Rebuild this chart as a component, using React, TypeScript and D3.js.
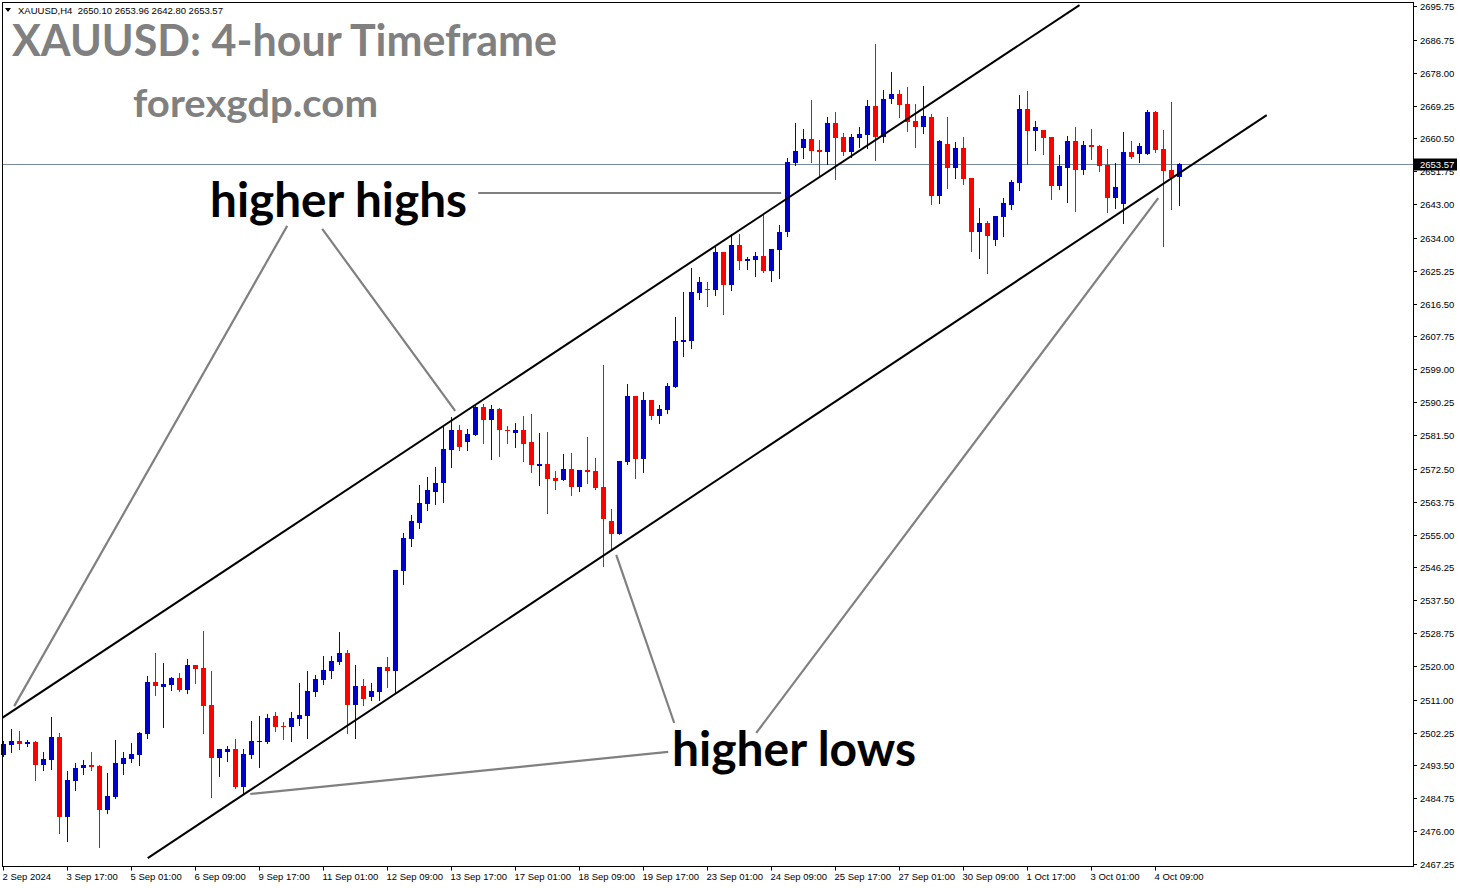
import * as d3 from "d3";

// XAUUSD H4 candles, bar 0 = 2 Sep 2024 00:00
const opens = [
  2496.3, 2499.0, 2500.0, 2499.2, 2499.7, 2493.7, 2495.0, 2501.1, 2479.9, 2489.4,
  2492.7, 2493.5, 2493.3, 2481.5, 2485.2, 2494.0, 2495.3, 2496.4, 2502.0, 2515.7,
  2514.5, 2515.0, 2516.7, 2513.7, 2520.2, 2519.5, 2509.6, 2495.6, 2497.0, 2497.9,
  2487.8, 2496.4, 2499.7, 2499.8, 2506.7, 2504.0, 2503.8, 2505.9, 2506.7, 2513.1,
  2516.2, 2518.7, 2521.0, 2523.5, 2509.7, 2514.6, 2511.8, 2513.1, 2519.7, 2518.7,
  2545.3, 2553.9, 2558.1, 2563.2, 2566.4, 2568.6, 2577.6, 2582.9, 2579.7, 2581.6,
  2588.9, 2585.5, 2588.4, 2582.9, 2582.1, 2582.9, 2579.7, 2573.3, 2573.8, 2570.1,
  2569.6, 2572.5, 2567.7, 2572.3, 2572.0, 2567.7, 2558.6, 2555.2, 2574.4, 2591.9,
  2575.2, 2590.8, 2586.6, 2588.2, 2594.3, 2606.4, 2606.6, 2619.4, 2620.5, 2620.2,
  2630.2, 2621.5, 2632.1, 2627.9, 2628.2, 2629.2, 2625.3, 2630.8, 2635.6, 2653.9,
  2657.8, 2660.3, 2657.4, 2657.0, 2664.6, 2660.9, 2657.0, 2660.6, 2661.5, 2669.1,
  2660.9, 2671.0, 2672.3, 2669.6, 2665.1, 2663.5, 2666.2, 2645.2, 2659.0, 2652.7,
  2657.9, 2650.0, 2635.6, 2637.9, 2633.5, 2639.6, 2642.8, 2648.7, 2668.3, 2662.5,
  2662.7, 2660.9, 2647.9, 2652.7, 2659.8, 2652.2, 2658.7, 2658.5, 2653.5, 2644.7,
  2643.1, 2656.9, 2656.4, 2656.4, 2667.5, 2657.7, 2652.1, 2650.1,
];
const highs = [
  2500.0, 2503.2, 2502.7, 2500.3, 2500.0, 2497.1, 2506.4, 2502.1, 2492.0, 2494.2,
  2494.9, 2497.1, 2493.5, 2491.4, 2500.3, 2497.1, 2499.5, 2502.4, 2517.3, 2523.5,
  2520.8, 2517.0, 2518.1, 2521.8, 2520.2, 2529.3, 2518.7, 2498.0, 2498.7, 2500.6,
  2497.8, 2505.3, 2506.7, 2507.2, 2507.7, 2505.1, 2507.7, 2515.4, 2518.7, 2517.6,
  2522.7, 2522.7, 2529.1, 2524.2, 2520.2, 2516.5, 2515.5, 2519.7, 2522.5, 2545.6,
  2555.5, 2560.2, 2568.2, 2570.2, 2573.0, 2584.0, 2586.3, 2584.2, 2583.1, 2589.4,
  2589.8, 2589.4, 2588.6, 2583.8, 2584.8, 2586.6, 2587.2, 2581.9, 2582.4, 2572.0,
  2576.5, 2576.8, 2572.3, 2581.0, 2575.5, 2600.2, 2561.8, 2574.6, 2595.2, 2591.9,
  2593.0, 2590.8, 2589.4, 2595.4, 2613.0, 2619.7, 2625.9, 2623.6, 2622.3, 2631.6,
  2630.2, 2635.0, 2635.0, 2628.9, 2630.2, 2640.1, 2631.0, 2637.4, 2655.3, 2664.6,
  2663.0, 2670.7, 2660.1, 2666.2, 2667.5, 2661.9, 2661.6, 2663.5, 2670.7, 2685.6,
  2673.4, 2678.2, 2673.4, 2674.2, 2669.6, 2674.4, 2667.0, 2660.1, 2666.2, 2659.5,
  2660.9, 2650.0, 2641.9, 2638.5, 2639.8, 2644.6, 2649.4, 2672.0, 2673.1, 2665.1,
  2662.7, 2660.9, 2656.1, 2661.1, 2663.5, 2659.8, 2663.0, 2658.7, 2657.7, 2654.0,
  2662.2, 2659.8, 2659.3, 2668.1, 2667.8, 2662.7, 2670.2, 2653.96,
];
const lows = [
  2496.0, 2497.2, 2497.9, 2498.8, 2489.7, 2492.2, 2492.5, 2475.6, 2473.5, 2487.0,
  2491.3, 2492.2, 2471.9, 2480.9, 2484.9, 2491.3, 2494.5, 2493.7, 2500.9, 2512.3,
  2503.8, 2513.7, 2513.4, 2512.9, 2515.5, 2502.2, 2485.2, 2490.8, 2494.7, 2487.6,
  2486.0, 2495.6, 2493.0, 2499.4, 2502.8, 2500.6, 2500.1, 2504.2, 2500.9, 2512.1,
  2515.2, 2516.7, 2520.5, 2502.2, 2500.9, 2509.7, 2511.0, 2511.0, 2514.5, 2513.1,
  2541.9, 2552.0, 2556.8, 2561.6, 2563.2, 2563.7, 2573.0, 2577.6, 2577.6, 2581.6,
  2579.4, 2575.1, 2575.9, 2579.4, 2578.4, 2574.6, 2571.7, 2568.3, 2560.8, 2567.0,
  2569.6, 2565.6, 2566.7, 2568.6, 2567.2, 2546.7, 2550.8, 2555.2, 2573.8, 2570.0,
  2571.7, 2585.8, 2584.8, 2587.4, 2594.3, 2602.6, 2604.7, 2617.8, 2615.9, 2618.9,
  2613.8, 2620.0, 2625.8, 2625.8, 2623.9, 2625.0, 2622.6, 2623.4, 2634.6, 2653.4,
  2655.3, 2654.3, 2650.8, 2653.7, 2649.8, 2656.1, 2655.5, 2658.2, 2657.9, 2654.8,
  2659.5, 2669.9, 2666.2, 2662.5, 2658.2, 2661.9, 2643.0, 2643.3, 2647.4, 2650.0,
  2648.4, 2630.6, 2628.6, 2624.7, 2632.2, 2634.6, 2641.8, 2646.8, 2653.7, 2657.5,
  2656.4, 2644.4, 2647.1, 2643.6, 2641.2, 2651.1, 2655.1, 2651.9, 2641.0, 2642.0,
  2638.0, 2655.4, 2654.3, 2656.4, 2656.9, 2631.9, 2641.8, 2642.8,
];
const closes = [
  2499.2, 2500.0, 2499.2, 2499.7, 2493.7, 2495.2, 2501.1, 2479.9, 2489.6, 2492.7,
  2493.5, 2493.0, 2481.7, 2485.4, 2494.1, 2495.6, 2496.6, 2502.2, 2515.7, 2514.7,
  2515.2, 2516.7, 2513.7, 2520.2, 2519.2, 2509.4, 2495.6, 2497.8, 2497.9, 2487.8,
  2496.6, 2500.0, 2500.0, 2506.1, 2503.8, 2503.8, 2506.1, 2506.9, 2513.3, 2516.5,
  2518.9, 2521.3, 2523.5, 2509.7, 2514.6, 2511.3, 2513.3, 2519.7, 2518.7, 2545.6,
  2554.1, 2558.6, 2563.4, 2566.9, 2568.7, 2577.8, 2582.9, 2578.4, 2581.8, 2588.9,
  2585.5, 2588.4, 2582.7, 2582.5, 2582.9, 2579.2, 2573.5, 2573.8, 2569.8, 2569.3,
  2572.5, 2567.7, 2572.3, 2571.7, 2567.5, 2559.2, 2555.2, 2574.6, 2591.9, 2575.2,
  2590.8, 2586.6, 2588.4, 2594.6, 2606.6, 2606.8, 2619.7, 2622.3, 2620.1, 2630.2,
  2621.5, 2632.1, 2627.9, 2628.4, 2629.2, 2625.3, 2631.0, 2635.5, 2654.2, 2657.1,
  2660.3, 2657.2, 2657.0, 2664.6, 2660.7, 2657.0, 2660.9, 2661.6, 2669.1, 2660.9,
  2671.0, 2672.3, 2669.4, 2664.9, 2663.5, 2666.5, 2645.2, 2659.8, 2652.7, 2657.9,
  2649.8, 2635.6, 2637.9, 2634.6, 2639.8, 2643.3, 2648.9, 2668.3, 2662.5, 2663.5,
  2660.7, 2647.9, 2653.1, 2659.8, 2652.2, 2658.7, 2658.3, 2653.2, 2644.7, 2647.5,
  2656.9, 2655.6, 2658.5, 2667.5, 2657.5, 2651.9, 2650.0, 2653.57,
];

const timeLabels = [
  "2 Sep 2024", "3 Sep 17:00", "5 Sep 01:00", "6 Sep 09:00", "9 Sep 17:00",
  "11 Sep 01:00", "12 Sep 09:00", "13 Sep 17:00", "17 Sep 01:00", "18 Sep 09:00",
  "19 Sep 17:00", "23 Sep 01:00", "24 Sep 09:00", "25 Sep 17:00", "27 Sep 01:00",
  "30 Sep 09:00", "1 Oct 17:00", "3 Oct 01:00", "4 Oct 09:00",
];
const barsPerLabel = 8;

const priceTicks = [
  2695.75, 2686.75, 2678.0, 2669.25, 2660.5, 2651.75, 2643.0, 2634.0, 2625.25,
  2616.5, 2607.75, 2599.0, 2590.25, 2581.5, 2572.5, 2563.75, 2555.0, 2546.25,
  2537.5, 2528.75, 2520.0, 2511.0, 2502.25, 2493.5, 2484.75, 2476.0, 2467.25,
];

const lastPrice = 2653.57;

// drawn objects, as [bar index, price]
const channelLines: [number, number][][] = [
  [[-0.2, 2506.1], [134.5, 2696.0]],
  [[18.03, 2468.8], [157.9, 2666.7]],
];
const pointerLines: [number, number][][] = [
  [[35.46, 2637.2], [1.34, 2509.3]],
  [[39.84, 2636.4], [56.46, 2587.9]],
  [[59.34, 2645.95], [97.21, 2645.95]],
  [[83.09, 2497.1], [30.84, 2485.9]],
  [[83.84, 2504.8], [76.59, 2549.55]],
  [[94.09, 2502.15], [144.34, 2644.6]],
];

const W = 1460;
const H = 888;
const frame = { left: 2.5, top: 2.5, right: 1413.5, bottom: 866.5 };
const axisFont = "Tahoma, 'Liberation Sans', Arial, sans-serif";
const bigFont = "Lato, 'Open Sans', sans-serif";
const bull = "#0000cd";
const bear = "#ff0000";

export default function App() {
  const x = d3.scaleLinear().domain([0, 1]).range([3.5, 11.5]);
  const y = d3.scaleLinear().domain([2467.25, 2695.75]).range([864, 6]);
  const line = d3
    .line<[number, number]>()
    .x((d) => x(d[0]))
    .y((d) => y(d[1]));

  const lastY = Math.round(y(lastPrice)) + 0.5;

  return (
    <>
      <style>{`body{margin:0}`}</style>
      <svg width={W} height={H} style={{ display: "block", background: "#fff" }}>
        <defs>
          <clipPath id="plot">
            <rect
              x={frame.left}
              y={frame.top}
              width={frame.right - frame.left}
              height={frame.bottom - frame.top}
            />
          </clipPath>
        </defs>

        {/* current price line */}
        <line x1={frame.left} x2={frame.right} y1={lastY} y2={lastY} stroke="#778899" strokeWidth={1} />

        {/* candles */}
        <g>
          {opens.map((o, i) => {
            const c = closes[i];
            const col = c >= o ? bull : bear;
            const cx = x(i);
            const top = Math.round(y(Math.max(o, c)));
            const bot = Math.round(y(Math.min(o, c)));
            return (
              <g key={i}>
                <line
                  x1={cx}
                  x2={cx}
                  y1={Math.round(y(highs[i]))}
                  y2={Math.round(y(lows[i])) + 1}
                  stroke={col}
                  strokeWidth={1}
                />
                <rect x={cx - 2.5} y={top} width={5} height={Math.max(1, bot - top)} fill={col} />
              </g>
            );
          })}
        </g>

        {/* channel */}
        <g clipPath="url(#plot)">
          {channelLines.map((l, i) => (
            <path key={i} d={line(l) ?? ""} fill="none" stroke="#000" strokeWidth={2} />
          ))}
        </g>

        {/* pointers */}
        {pointerLines.map((l, i) => (
          <path key={i} d={line(l) ?? ""} fill="none" stroke="#808080" strokeWidth={2.2} />
        ))}

        {/* frame */}
        <rect
          x={frame.left}
          y={frame.top}
          width={frame.right - frame.left}
          height={frame.bottom - frame.top}
          fill="none"
          stroke="#000"
          strokeWidth={1}
        />

        {/* price axis */}
        <g fontFamily={axisFont} fontSize={9.5} fill="#000">
          {priceTicks.map((p) => {
            const py = Math.round(y(p)) + 0.5;
            return (
              <g key={p}>
                <line x1={frame.right} x2={frame.right + 3.5} y1={py} y2={py} stroke="#000" />
                <text x={1420} y={py} dominantBaseline="central">
                  {p.toFixed(2)}
                </text>
              </g>
            );
          })}
          <rect x={1414} y={lastY - 6} width={43} height={12} fill="#000" />
          <text x={1420} y={lastY} dominantBaseline="central" fill="#fff">
            {lastPrice.toFixed(2)}
          </text>
        </g>

        {/* time axis */}
        <g fontFamily={axisFont} fontSize={9.5} fill="#000">
          {timeLabels.map((t, k) => {
            const tx = x(k * barsPerLabel);
            return (
              <g key={t}>
                <line x1={tx} x2={tx} y1={frame.bottom} y2={frame.bottom + 4} stroke="#000" />
                <text x={tx - 1} y={880}>
                  {t}
                </text>
              </g>
            );
          })}
        </g>

        {/* header */}
        <path d="M5,8 L11,8 L8,12 Z" fill="#000" />
        <text x={18} y={14} fontFamily={axisFont} fontSize={9.5} fill="#000">
          XAUUSD,H4{"\u00a0\u00a0"}2650.10 2653.96 2642.80 2653.57
        </text>

        {/* annotations */}
        <g fontFamily={bigFont} fontWeight="bold">
          <text x={12} y={56} fontSize={44} fill="#808080" textLength={545} lengthAdjust="spacingAndGlyphs">
            XAUUSD: 4-hour Timeframe
          </text>
          <text x={133} y={117} fontSize={38} fill="#808080" textLength={245} lengthAdjust="spacingAndGlyphs">
            forexgdp.com
          </text>
          <text x={210} y={217} fontSize={48} fill="#000" textLength={257} lengthAdjust="spacingAndGlyphs">
            higher highs
          </text>
          <text x={672} y={766} fontSize={48} fill="#000" textLength={244} lengthAdjust="spacingAndGlyphs">
            higher lows
          </text>
        </g>
      </svg>
    </>
  );
}
